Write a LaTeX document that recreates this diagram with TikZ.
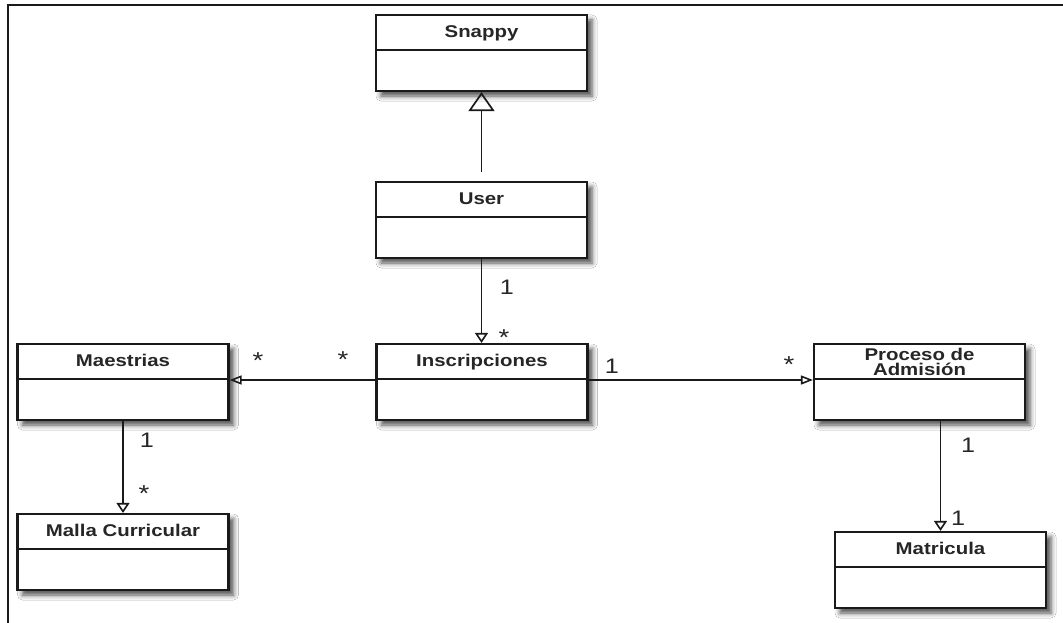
\documentclass[tikz,border=0pt]{standalone}
\usepackage{fontspec}
\setmainfont{Liberation Sans}
\newfontfamily\umlfont[FakeStretch=1.2]{Liberation Sans}
\usetikzlibrary{arrows.meta,shadows.blur,calc}

\definecolor{ink}{HTML}{1A1A1A}
\definecolor{txt}{HTML}{262626}

% one UML class: outer box, header divider and title
\newcommand\classbox[3]{%
  \node[umlclass] (#1) at (#2) {};
  \draw[divider] ([yshift=-36pt]#1.north west) -- ([yshift=-36pt]#1.north east);
  \node[classname] (#1-title) at ([yshift=-18pt]#1.north) {#3};
}

\begin{document}
\begin{tikzpicture}[x=1pt,y=-1pt,
  umlclass/.style={draw=ink, line width=2.2pt, fill=white, minimum width=211pt,
    minimum height=76pt, inner sep=0pt,
    blur shadow={shadow xshift=5pt, shadow yshift=-5pt, shadow blur radius=5pt, shadow opacity=70}},
  divider/.style={draw=ink, line width=1.7pt},
  classname/.style={font=\umlfont\bfseries\fontsize{17}{15}\selectfont, text=txt,
    inner sep=0pt, text height=12pt, text depth=0pt},
  frameline/.style={draw=ink, line width=2pt},
  generalize/.style={draw=ink, line width=1.9pt,
    -{Triangle[open, length=19pt, width=26pt, line width=1.7pt]}},
  vassoc/.style={draw=ink, line width=1.8pt,
    -{Triangle[open, length=10pt, width=13pt, line width=1.6pt]}},
  hassoc/.style={draw=ink, line width=1.8pt,
    -{Triangle[open, length=12pt, width=9pt, line width=1.6pt]}},
  mult/.style={font=\umlfont\fontsize{21}{21}\selectfont, text=txt, inner sep=0pt, anchor=base},
  many/.style={font=\umlfont\fontsize{23}{23}\selectfont, text=txt, inner sep=0pt,
    anchor=base, yshift=-14pt}
]
\fill[white] (0,0) rectangle (1063,623);
\useasboundingbox (0,0) rectangle (1063,623);

% outer frame (top and left edges)
\draw[frameline] (7.5,623) -- (7.5,5.5) -- (1063,5.5);

% classes
\classbox{snappy}{481.5,53}{Snappy}
\classbox{user}{481.5,220}{User}
\classbox{insc}{482,382}{Inscripciones}
\classbox{maes}{123,382}{Maestrias}
\classbox{malla}{123,552}{Malla Curricular}
\classbox{proc}{919.5,382}{}
\node[font=\umlfont\bfseries\fontsize{17}{15}\selectfont, text=txt, inner sep=0pt, align=center]
  (proc-name) at (919.5,362.3) {Proceso de\\Admisión};
\classbox{matr}{940.5,570}{Matricula}

% inheritance
\draw[generalize, shorten <=9pt] (user.north) -- (snappy.south);

% associations
\draw[vassoc] (user.south) -- (user.south |- insc.north);
\draw[hassoc] ([yshift=2pt]insc.west) -- ([yshift=2pt]maes.east);
\draw[hassoc] ([yshift=2pt]insc.east) -- ([yshift=2pt]proc.west);
\draw[vassoc] (maes.south) -- (malla.north);
\draw[vassoc] (matr.north |- proc.south) -- (matr.north);

% multiplicities
\node[mult] (m-user) at (507,294) {1};
\node[many] (m-insc-top) at (504,331) {*};
\node[many] (m-maes) at (258,354) {*};
\node[many] (m-insc-left) at (343,353) {*};
\node[mult] (m-insc-right) at (612,373) {1};
\node[many] (m-proc) at (789,358) {*};
\node[mult] (m-maes-down) at (147,447) {1};
\node[many] (m-malla) at (144,487) {*};
\node[mult] (m-proc-down) at (968,452) {1};
\node[mult] (m-matr) at (958,525) {1};
\end{tikzpicture}
\end{document}
